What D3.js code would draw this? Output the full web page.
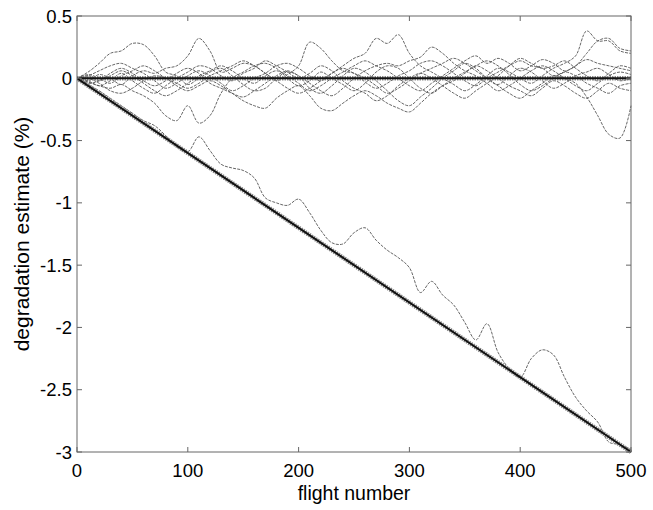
<!DOCTYPE html>
<html>
<head>
<meta charset="utf-8">
<script src="https://cdn.jsdelivr.net/npm/d3@7"></script>
<style>
  body { margin: 0; background: #fff; }
  text { font-family: Arial, "Liberation Sans", Helvetica, sans-serif; }
</style>
</head>
<body>
<script>
// flight numbers, one estimate every 10 flights
var flights = d3.range(0, 501, 10)

// true degradation (thick black lines)
var truthFlights = [0, 500]
var truthHealthy = [0, 0]
var truthDegraded = [0, -3]

// estimates for the healthy runs (%)
var runA = [0,0.05,0.12,0.2,0.22,0.28,0.27,0.18,0.05,0.02,-0.05,0,0.05,0.08,0.02,-0.05,-0.1,-0.08,0,0.05,0.02,-0.08,-0.12,-0.06,0.02,0.08,0.05,-0.02,-0.1,-0.18,-0.22,-0.15,-0.08,0,0.06,0.12,0.08,0,-0.05,0.02,0.08,0.05,-0.02,-0.08,-0.04,0.02,0.05,0.08,0.03,-0.02,0]
var runB = [0,-0.02,0.03,0,-0.05,0.02,0.06,0.04,0.08,0.1,0.18,0.32,0.22,0.05,0.08,0.12,0.1,0.04,-0.02,0.03,0.1,0.29,0.24,0.14,0.06,0.04,-0.03,-0.08,-0.04,0.02,0.06,0.12,0.14,0.1,0.04,-0.02,-0.06,0,0.05,0.1,0.14,0.1,0.08,0.02,0.05,0.1,0.15,0.12,0.1,0.08,0.06]
var runC = [0,-0.03,-0.06,-0.08,-0.05,-0.1,-0.14,-0.2,-0.3,-0.34,-0.22,-0.36,-0.3,-0.12,0,0.05,0.1,0.12,0.08,0,-0.06,-0.02,0.05,0,-0.05,-0.1,-0.04,0.05,0.1,0.08,0,-0.08,-0.12,-0.06,0,0.05,0.1,0.14,0.1,0.03,-0.05,-0.1,-0.06,0,0.05,0.02,-0.04,-0.08,-0.12,-0.06,-0.04]
var runD = [0,0.02,0.06,0.1,0.12,0.08,0.04,-0.02,-0.08,-0.04,0.02,0.06,0.02,-0.04,-0.1,-0.06,0,0.04,0.1,0.12,0.08,0.02,-0.02,0.04,0.1,0.16,0.2,0.32,0.28,0.35,0.2,0.1,0.05,0,-0.05,-0.1,-0.05,0.02,0.08,0.05,0,-0.04,0.02,0.08,0.12,0.18,0.38,0.3,0.3,0.22,0.2]
var runE = [0,-0.04,-0.02,0.04,0.08,0.04,-0.02,-0.06,-0.02,0.04,0.08,0.04,-0.04,-0.08,-0.12,-0.15,-0.1,-0.04,0.02,0.06,0.02,-0.04,-0.1,-0.14,-0.08,0,0.06,0.1,0.12,0.1,0.14,0.17,0.25,0.2,0.12,0.06,0.02,-0.04,-0.1,-0.06,0,0.06,0.1,0.06,0,-0.06,-0.1,-0.04,0.02,0.05,0.03]
var runF = [0,0,-0.04,-0.1,-0.12,-0.08,-0.02,0.02,0,-0.06,-0.1,-0.06,-0.02,-0.06,-0.12,-0.18,-0.22,-0.24,-0.16,-0.1,-0.06,-0.14,-0.24,-0.26,-0.2,-0.14,-0.1,-0.14,-0.2,-0.24,-0.27,-0.2,-0.12,-0.06,-0.02,0.04,0.1,0.06,0,-0.06,-0.1,-0.14,-0.08,-0.02,-0.06,-0.12,-0.16,-0.1,-0.04,-0.08,-0.1]
var runG = [0,0.03,0,-0.04,0.02,0.06,0.1,0.06,0,-0.04,-0.08,-0.04,0.02,0.06,0.1,0.14,0.1,0.04,-0.02,-0.08,-0.12,-0.08,-0.02,0.04,0.08,0.04,0,-0.06,-0.12,-0.08,-0.02,0.04,0.08,0.12,0.16,0.12,0.06,0,-0.06,-0.12,-0.16,-0.1,-0.04,0.02,0,-0.04,-0.15,-0.3,-0.45,-0.48,-0.22]
var runH = [0,0.02,-0.02,0.02,0.06,0.02,-0.04,-0.1,-0.14,-0.1,-0.04,0.02,0.06,0.1,0.06,0,-0.04,0.02,0.06,0.02,-0.04,-0.1,-0.06,0,0.05,0.1,0.14,0.1,0.06,0,-0.06,-0.1,-0.04,0.02,0.08,0.14,0.18,0.12,0.16,0.12,0.06,0.1,0.15,0.12,0.06,0.1,0.2,0.3,0.32,0.24,0.22]
var runI = [0,-0.02,-0.06,-0.02,0.04,-0.02,-0.08,-0.12,-0.06,0,0.05,0.1,0.08,0.02,-0.02,0.04,0.08,0.14,0.1,0.05,0,0.04,0.1,0.06,-0.02,-0.08,-0.12,-0.18,-0.14,-0.06,0,0.04,0,-0.06,-0.12,-0.16,-0.1,-0.04,0.02,0.1,0.16,0.12,0.08,0.1,0.14,0.08,0.02,-0.02,0.04,0.1,0.08]
// estimate for the degraded run (%)
var runDeg = [0,-0.05,-0.1,-0.16,-0.22,-0.28,-0.34,-0.38,-0.46,-0.55,-0.59,-0.47,-0.58,-0.69,-0.72,-0.74,-0.8,-0.96,-1.0,-1.02,-0.97,-1.08,-1.22,-1.32,-1.33,-1.24,-1.2,-1.3,-1.38,-1.44,-1.52,-1.72,-1.63,-1.74,-1.82,-1.96,-2.1,-1.97,-2.2,-2.33,-2.4,-2.25,-2.18,-2.22,-2.4,-2.56,-2.67,-2.76,-2.92,-2.94,-2.98]

var xTicks = [0, 100, 200, 300, 400, 500]
var yTicks = [0.5, 0, -0.5, -1, -1.5, -2, -2.5, -3]

var W = 653, H = 510
var plotL = 77, plotR = 631, plotT = 16, plotB = 452

var svg = d3.select("body").append("svg")
    .attr("width", W)
    .attr("height", H)

var x = d3.scaleLinear().domain([0, 500]).range([plotL, plotR])
var y = d3.scaleLinear().domain([-3, 0.5]).range([plotB, plotT])

var clip = svg.append("clipPath").attr("id", "plotclip")
clip.append("rect").attr("x", plotL).attr("y", plotT - 2).attr("width", plotR - plotL + 1).attr("height", plotB - plotT + 4)

var plot = svg.append("g").attr("clip-path", "url(#plotclip)")

var thin = d3.line()
    .x(function(d) { return x(d[0]) })
    .y(function(d) { return y(d[1]) })
    .curve(d3.curveCatmullRom.alpha(0.5))

var runs = [runA, runB, runC, runD, runE, runF, runG, runH, runI, runDeg]
runs.forEach(function(r) {
    plot.append("path")
        .datum(flights.map(function(f, i) { return [f, r[i]] }))
        .attr("d", thin)
        .attr("fill", "none")
        .attr("stroke", "#555")
        .attr("stroke-width", 0.9)
        .attr("stroke-dasharray", "3,1.2")
})

var straight = d3.line()
    .x(function(d) { return x(d[0]) })
    .y(function(d) { return y(d[1]) })

// thick truth lines: textured underlay + black core
;[truthHealthy, truthDegraded].forEach(function(t) {
    var pts = truthFlights.map(function(f, i) { return [f, t[i]] })
    plot.append("path").datum(pts).attr("d", straight)
        .attr("fill", "none").attr("stroke", "#888").attr("stroke-width", 4.5)
        .attr("stroke-dasharray", "1.5,1")
    plot.append("path").datum(pts).attr("d", straight)
        .attr("fill", "none").attr("stroke", "#111").attr("stroke-width", 2)
})

// box
svg.append("rect")
    .attr("x", plotL).attr("y", plotT)
    .attr("width", plotR - plotL).attr("height", plotB - plotT)
    .attr("fill", "none").attr("stroke", "#666").attr("stroke-width", 1)

var tickLen = 5
xTicks.forEach(function(t) {
    svg.append("line").attr("x1", x(t)).attr("x2", x(t)).attr("y1", plotB).attr("y2", plotB - tickLen).attr("stroke", "#666")
    svg.append("line").attr("x1", x(t)).attr("x2", x(t)).attr("y1", plotT).attr("y2", plotT + tickLen).attr("stroke", "#666")
    svg.append("text").attr("x", x(t)).attr("y", 477)
        .attr("text-anchor", "middle").attr("font-size", 18.5).attr("fill", "#000")
        .text(t)
})
yTicks.forEach(function(t) {
    svg.append("line").attr("x1", plotL).attr("x2", plotL + tickLen).attr("y1", y(t)).attr("y2", y(t)).attr("stroke", "#666")
    svg.append("line").attr("x1", plotR).attr("x2", plotR - tickLen).attr("y1", y(t)).attr("y2", y(t)).attr("stroke", "#666")
    svg.append("text").attr("x", 72).attr("y", y(t) + 6.5)
        .attr("text-anchor", "end").attr("font-size", 18.5).attr("fill", "#000")
        .text(t)
})

svg.append("text")
    .attr("x", (plotL + plotR) / 2).attr("y", 500)
    .attr("text-anchor", "middle").attr("font-size", 19.5)
    .text("flight number")

svg.append("text")
    .attr("transform", "translate(29," + ((plotT + plotB) / 2) + ") rotate(-90)")
    .attr("text-anchor", "middle").attr("font-size", 21)
    .text("degradation estimate (%)")
</script>
</body>
</html>
